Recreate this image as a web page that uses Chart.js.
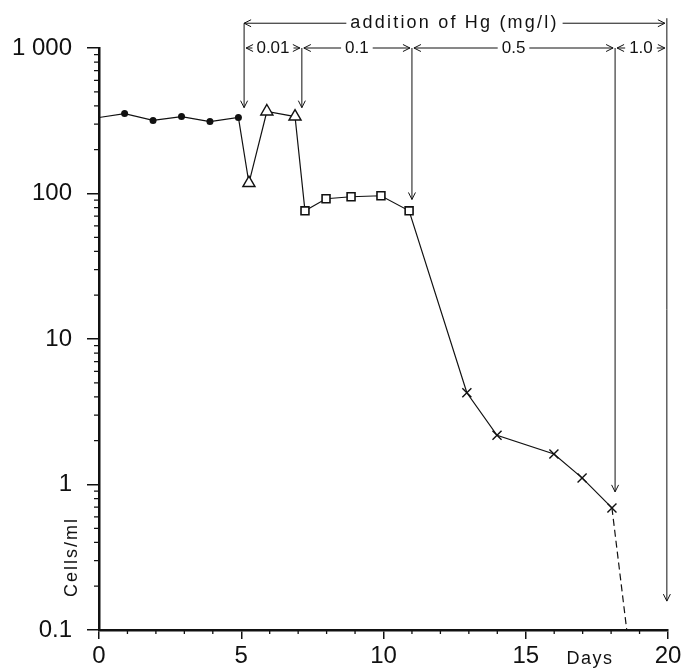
<!DOCTYPE html>
<html>
<head>
<meta charset="utf-8">
<script src="https://cdn.jsdelivr.net/npm/chart.js@4"></script>
<style>
  html, body { margin: 0; padding: 0; background: #fff; }
  canvas { display: block; }
</style>
</head>
<body>
<canvas id="hgChart" width="686" height="669"></canvas>
<script>
// values (days, cells/ml)
const startDay   = [0];
const startCells = [333];
const dotDays    = [0.9, 1.9, 2.9, 3.9, 4.9];
const dotCells   = [354, 318, 338, 312, 333];
const triDays    = [5.27, 5.9, 6.89];
const triCells   = [118, 366, 338];
const sqDays     = [7.24, 7.98, 8.86, 9.91, 10.9];
const sqCells    = [76, 92, 95, 96.5, 76];
const crossDays  = [12.93, 13.99, 15.99, 16.98, 18.03];
const crossCells = [4.27, 2.18, 1.62, 1.11, 0.69];
const extinctDay = [18.55];
const extinctCells = [0.1];

const xTickValues = [0, 5, 10, 15, 20];
const xTickLabels = ['0', '5', '10', '15', '20'];
const yTickValues = [0.1, 1, 10, 100, 1000];
const yTickLabels = ['0.1', '1', '10', '100', '1 000'];

// Hg additions: boundaries (days), dose labels, where the down arrows end (cells/ml)
const hgDays      = [5.1, 7.13, 11.0, 18.14, 19.96];
const hgDoses     = ['0.01', '0.1', '0.5', '1.0'];
const hgArrowTips = [389, 389, 91, 0.89, 0.158];
const hgTitle     = 'addition of Hg (mg/l)';
const hgTitleLevel = 1480;
const hgDoseLevel  = 1000;

const FONT = '"Liberation Sans", Arial, sans-serif';

function pts(xs, ys) { return xs.map((x, i) => ({ x: x, y: ys[i] })); }

const allLine = pts(
  startDay.concat(dotDays, triDays, sqDays, crossDays),
  startCells.concat(dotCells, triCells, sqCells, crossCells)
);
const tail = pts(crossDays.slice(-1).concat(extinctDay), crossCells.slice(-1).concat(extinctCells));

function arrowHead(ctx, x, y, dir) {
  const L = 7, W = 3.5;
  ctx.beginPath();
  if (dir === 'd') { ctx.moveTo(x - W, y - L); ctx.lineTo(x, y); ctx.lineTo(x + W, y - L); }
  if (dir === 'l') { ctx.moveTo(x + L, y - W); ctx.lineTo(x, y); ctx.lineTo(x + L, y + W); }
  if (dir === 'r') { ctx.moveTo(x - L, y - W); ctx.lineTo(x, y); ctx.lineTo(x - L, y + W); }
  ctx.stroke();
}

// labelled double arrow between x1 and x2
function spanArrow(ctx, x1, x2, y, text) {
  const w = ctx.measureText(text).width;
  const cx = (x1 + x2) / 2;
  ctx.beginPath();
  ctx.moveTo(x1, y); ctx.lineTo(cx - w / 2 - 4, y);
  ctx.moveTo(cx + w / 2 + 4, y); ctx.lineTo(x2, y);
  ctx.stroke();
  arrowHead(ctx, x1, y, 'l');
  arrowHead(ctx, x2, y, 'r');
  ctx.fillText(text, cx, y);
}

const decor = {
  id: 'decor',
  afterDraw(chart) {
    const ctx = chart.ctx;
    const xs = chart.scales.x, ys = chart.scales.y;
    const area = chart.chartArea;
    ctx.save();
    ctx.strokeStyle = '#111';
    ctx.fillStyle = '#111';

    // minor ticks
    ctx.lineWidth = 1.3;
    ctx.beginPath();
    for (let d = 0; d <= 20; d++) {
      if (d % 5 === 0) continue;
      const px = xs.getPixelForValue(d);
      ctx.moveTo(px, area.bottom); ctx.lineTo(px, area.bottom + 4);
    }
    for (let e = -1; e < 3; e++) {
      for (let m = 2; m <= 9; m++) {
        const py = ys.getPixelForValue(m * Math.pow(10, e));
        ctx.moveTo(area.left, py); ctx.lineTo(area.left - 5, py);
      }
    }
    ctx.stroke();

    // Hg addition annotations
    ctx.lineWidth = 1;
    ctx.textAlign = 'center';
    ctx.textBaseline = 'middle';
    const bx = hgDays.map(d => xs.getPixelForValue(d));
    const yTop = ys.getPixelForValue(hgTitleLevel);
    const yDose = ys.getPixelForValue(hgDoseLevel);

    ctx.font = '18px ' + FONT;
    ctx.letterSpacing = '2.2px';
    spanArrow(ctx, bx[0], bx[bx.length - 1] - 2, yTop, hgTitle);
    ctx.letterSpacing = '0px';
    ctx.font = '17px ' + FONT;
    for (let i = 0; i < hgDoses.length; i++) {
      spanArrow(ctx, bx[i] + 2, bx[i + 1] - 2, yDose, hgDoses[i]);
    }

    ctx.beginPath();
    bx.forEach((px, i) => {
      const top = (i === 0 || i === bx.length - 1) ? yTop - (i === 0 ? 0 : 5) : yDose;
      const tip = ys.getPixelForValue(hgArrowTips[i]);
      ctx.moveTo(px, top); ctx.lineTo(px, tip);
    });
    ctx.stroke();
    bx.forEach((px, i) => arrowHead(ctx, px, ys.getPixelForValue(hgArrowTips[i]), 'd'));

    // axis titles
    ctx.font = '18px ' + FONT;
    ctx.letterSpacing = '1.5px';
    ctx.fillText('Days', 590, 659);
    ctx.translate(72, 557);
    ctx.rotate(-Math.PI / 2);
    ctx.letterSpacing = '2px';
    ctx.fillText('Cells/ml', 0, 0);
    ctx.restore();
  }
};

new Chart(document.getElementById('hgChart').getContext('2d'), {
  type: 'scatter',
  data: {
    datasets: [
      {
        data: pts(dotDays, dotCells), order: 0, showLine: false,
        pointStyle: 'circle', pointRadius: 3.5,
        backgroundColor: '#111', borderColor: '#111', borderWidth: 0
      },
      {
        data: pts(triDays, triCells), order: 0, showLine: false,
        pointStyle: 'triangle', pointRadius: 7,
        backgroundColor: '#fff', borderColor: '#111', borderWidth: 1.4
      },
      {
        data: pts(sqDays, sqCells), order: 0, showLine: false,
        pointStyle: 'rect', pointRadius: 5.6,
        backgroundColor: '#fff', borderColor: '#111', borderWidth: 1.6
      },
      {
        data: pts(crossDays, crossCells), order: 0, showLine: false,
        pointStyle: 'crossRot', pointRadius: 6.4,
        backgroundColor: '#111', borderColor: '#111', borderWidth: 1.4
      },
      {
        data: allLine, order: 1, showLine: true, pointRadius: 0,
        borderColor: '#111', borderWidth: 1.2, tension: 0
      },
      {
        data: tail, order: 1, showLine: true, pointRadius: 0,
        borderColor: '#111', borderWidth: 1.2, borderDash: [7, 4], tension: 0
      }
    ]
  },
  options: {
    responsive: false,
    animation: false,
    layout: { padding: { top: 48, right: 18, left: 0, bottom: 0 } },
    plugins: { legend: { display: false }, tooltip: { enabled: false } },
    scales: {
      x: {
        type: 'linear', min: 0, max: 20,
        afterFit(s) { s.height = 39; },
        afterBuildTicks(s) { s.ticks = xTickValues.map(v => ({ value: v })); },
        border: { display: true, color: '#111', width: 2.5 },
        grid: { drawOnChartArea: false, drawTicks: true, tickLength: 9, color: '#111', lineWidth: 1.5 },
        ticks: {
          color: '#111', padding: 3, maxRotation: 0,
          font: { family: FONT, size: 24 },
          callback: v => xTickLabels[xTickValues.indexOf(v)]
        }
      },
      y: {
        type: 'logarithmic', min: 0.1, max: 1000,
        afterFit(s) { s.width = 99; },
        afterBuildTicks(s) { s.ticks = yTickValues.map(v => ({ value: v })); },
        border: { display: true, color: '#111', width: 2.5 },
        grid: { drawOnChartArea: false, drawTicks: true, tickLength: 12, color: '#111', lineWidth: 1.5 },
        ticks: {
          color: '#111', padding: 15,
          font: { family: FONT, size: 24 },
          callback: v => yTickLabels[yTickValues.indexOf(v)]
        }
      }
    }
  },
  plugins: [decor]
});
</script>
</body>
</html>
